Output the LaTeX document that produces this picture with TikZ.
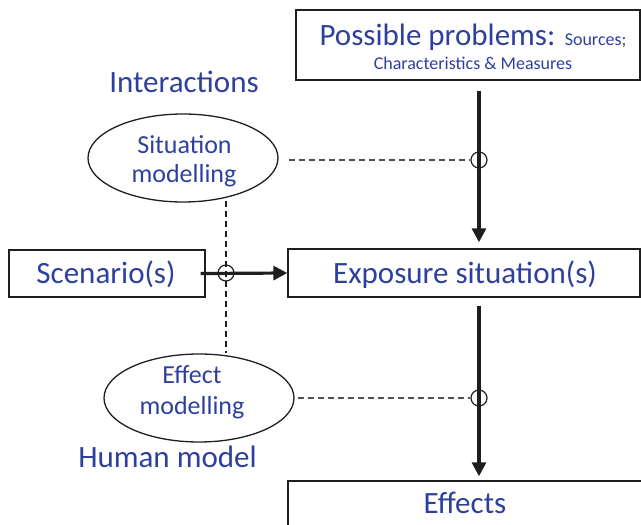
\documentclass[tikz,border=0pt]{standalone}
\usepackage{fontspec}
\setmainfont{Carlito}
\usetikzlibrary{arrows.meta,shapes.geometric}
\definecolor{txt}{RGB}{46,64,158}
\definecolor{ink}{RGB}{30,30,30}
\definecolor{dgray}{RGB}{80,80,80}
\begin{document}
\begin{tikzpicture}[x=1pt,y=-1pt,
  box/.style={draw=ink,line width=1.4pt,rectangle,inner sep=0pt},
  oval/.style={draw=ink,line width=1.3pt,ellipse,inner sep=0pt,minimum width=190pt,minimum height=88pt},
  big/.style={text=txt,inner sep=0pt,anchor=base,font=\fontsize{31}{36}\selectfont},
  mid/.style={text=txt,inner sep=0pt,anchor=base,font=\fontsize{26}{30}\selectfont},
  small/.style={text=txt,inner sep=0pt,anchor=base,font=\fontsize{18}{21}\selectfont},
  cross/.style={draw=ink,line width=1.2pt,circle,inner sep=0pt,minimum size=16pt},
  flow/.style={line width=3.2pt,draw=ink,-{Triangle[length=14pt,width=14pt]}},
  dline/.style={line width=1.3pt,dash pattern=on 6pt off 4pt,draw=dgray}
]
\useasboundingbox (0,0) rectangle (641,525);

% boxes
\node[box,minimum width=344pt,minimum height=70pt] (pp) at (468,45) {};
\node[box,minimum width=352pt,minimum height=48pt] (exp) at (464,273) {};
\node[box,minimum width=196pt,minimum height=47pt] (scn) at (107,273.5) {};
\node[box,minimum width=362pt,minimum height=59pt] (eff) at (469,510.5) {};

% ellipses
\node[oval] (sit) at (183,158) {};
\node[oval] (efm) at (199,398) {};

% texts
\node[big] (tpp) at (473,45) {Possible problems: {\fontsize{18}{21}\selectfont Sources;}};
\node[small] (tpp2) at (473,69) {Characteristics \& Measures};
\node[big] (tint) at (184,92) {Interactions};
\node[mid] (tsit1) at (184.5,153) {Situation};
\node[mid] (tsit2) at (184,182) {modelling};
\node[big] (tscn) at (106,283) {Scenario(s)};
\node[big] (texp) at (465,283) {Exposure situation(s)};
\node[mid] (tefm1) at (192,383) {Effect};
\node[mid] (tefm2) at (192,414) {modelling};
\node[big] (thum) at (167.5,467) {Human model};
\node[big] (teff) at (465,513) {Effects};

% crossing circles
\node[cross] (c1) at (479,160) {};
\node[cross] (c2) at (226,273) {};
\node[cross] (c3) at (479,398) {};

% dashed links
\draw[dline,shorten <=10pt] (sit.east |- c1) -- (c1.west);
\draw[dline,shorten <=3pt] (efm.east |- c3) -- (c3.west);
\draw[dline,draw=ink,shorten <=-2pt] (c2 |- sit.south) -- (c2 |- efm.north);

% flow arrows
\draw[flow,shorten <=10pt,shorten >=6pt] (c1 |- pp.south) -- (c1 |- exp.north);
\draw[flow,shorten <=8pt,shorten >=4pt] (c1 |- exp.south) -- (c1 |- eff.north);
\draw[flow,shorten <=-5pt] (scn.east) -- (exp.west);
\end{tikzpicture}
\end{document}
